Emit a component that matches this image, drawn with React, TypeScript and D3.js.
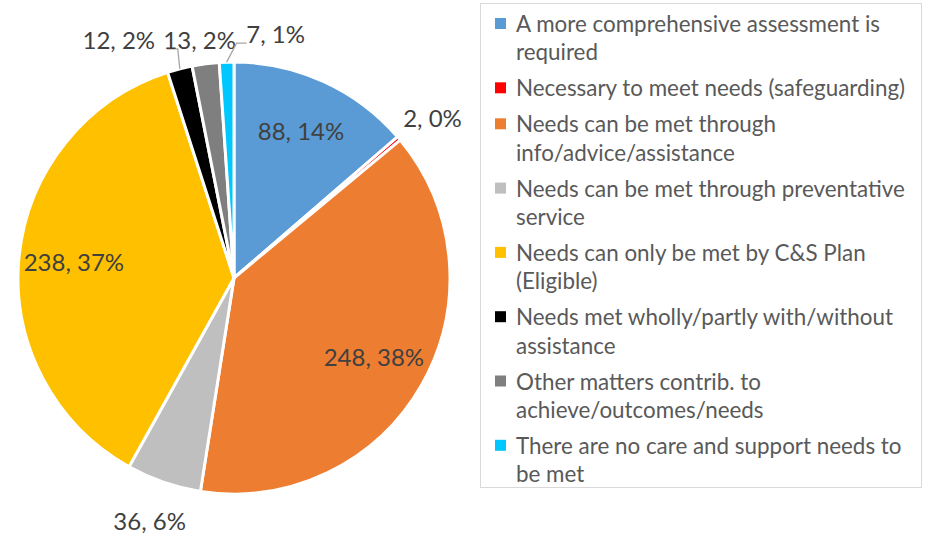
import React from "react";
import * as d3 from "d3";

const categories = [
  "A more comprehensive assessment is required",
  "Necessary to meet needs (safeguarding)",
  "Needs can be met through info/advice/assistance",
  "Needs can be met through preventative service",
  "Needs can only be met by C&S Plan (Eligible)",
  "Needs met wholly/partly with/without assistance",
  "Other matters contrib. to achieve/outcomes/needs",
  "There are no care and support needs to be met",
];
const values = [88, 2, 248, 36, 238, 12, 13, 7];
const percentLabels = ["14%", "0%", "38%", "6%", "37%", "2%", "2%", "1%"];
const legendLines = [
  ["A more comprehensive assessment is", "required"],
  ["Necessary to meet needs (safeguarding)"],
  ["Needs can be met through", "info/advice/assistance"],
  ["Needs can be met through preventative", "service"],
  ["Needs can only be met by C&S Plan", "(Eligible)"],
  ["Needs met wholly/partly with/without", "assistance"],
  ["Other matters contrib. to", "achieve/outcomes/needs"],
  ["There are no care and support needs to", "be met"],
];
const colors = ["#5B9BD5", "#FF0000", "#ED7D31", "#BFBFBF", "#FFC000", "#000000", "#7F7F7F", "#00C8FF"];

// label placement: radius factor along mid-angle, plus nudges; leader = draw leader line
const labelPlacement = [
  { rf: 0.745, dx: 0, dy: 0, leader: false },
  { rf: 1.18, dx: 4, dy: 5, leader: false },
  { rf: 0.745, dx: 0, dy: 0, leader: false },
  { rf: 1.2, dx: 0, dy: -2, leader: false },
  { rf: 0.745, dx: 0, dy: 0, leader: false },
  { rf: 1.0, dx: -61, dy: -29, leader: true },
  { rf: 1.0, dx: -6, dy: -24, leader: false },
  { rf: 1.0, dx: 49, dy: -28, leader: true },
];

const W = 933;
const H = 537;
const cx = 234;
const cy = 278;
const R = 216;
const FONT = "Lato, 'Open Sans', sans-serif";

export default function App() {
  const pie = d3.pie<number>().sort(null).value((d) => d);
  const arcs = pie(values);
  const arcGen = d3.arc<d3.PieArcDatum<number>>().innerRadius(0).outerRadius(R);

  const polar = (angle: number, r: number) => [Math.sin(angle) * r, -Math.cos(angle) * r];

  // legend layout
  const lineH = 28.3;
  const itemGap = 36;
  let baseline = 32;
  const legendItems = legendLines.map((lines, i) => {
    const item = { lines, y: baseline, color: colors[i], name: categories[i] };
    baseline += (lines.length - 1) * lineH + itemGap;
    return item;
  });

  return (
    <svg
      width={W}
      height={H}
      style={{ position: "absolute", left: 0, top: 0, background: "#fff" }}
      fontFamily={FONT}
    >
      <g transform={`translate(${cx},${cy})`}>
        {arcs.map((a, i) => (
          <path key={i} d={arcGen(a) || ""} fill={colors[i]} stroke="#fff" strokeWidth={3} strokeLinejoin="round" />
        ))}
        {arcs.map((a, i) => {
          const mid = (a.startAngle + a.endAngle) / 2;
          const p = labelPlacement[i];
          const [bx, by] = polar(mid, R * p.rf);
          const lx = bx + p.dx;
          const ly = by + p.dy;
          let leader = null;
          if (p.leader) {
            const [ex, ey] = polar(mid, R);
            const lineY = ly + 9;
            if (p.dx < 0) {
              const x2 = lx + 48;
              leader = (
                <polyline
                  points={`${ex},${ey} ${x2 + 11},${lineY} ${x2},${lineY}`}
                  fill="none"
                  stroke="#A6A6A6"
                  strokeWidth={1.3}
                />
              );
            } else {
              const x2 = lx - 29;
              leader = (
                <polyline
                  points={`${ex},${ey} ${x2 - 10},${lineY} ${x2},${lineY}`}
                  fill="none"
                  stroke="#A6A6A6"
                  strokeWidth={1.3}
                />
              );
            }
          }
          return (
            <g key={"l" + i}>
              {leader}
              <text
                x={lx}
                y={ly}
                dy="0.36em"
                textAnchor="middle"
                fontSize={24}
                fill="#404040"
              >
                {`${values[i]}, ${percentLabels[i]}`}
              </text>
            </g>
          );
        })}
      </g>
      <rect x={480.5} y={3.5} width={441} height={484} fill="none" stroke="#D9D9D9" strokeWidth={1} />
      {legendItems.map((it, i) => (
        <g key={"lg" + i}>
          <title>{it.name}</title>
          <rect x={495} y={it.y - 14} width={11} height={11} fill={it.color} />
          {it.lines.map((ln, j) => (
            <text key={j} x={516} y={it.y + j * lineH} fontSize={22.4} fill="#595959">
              {ln}
            </text>
          ))}
        </g>
      ))}
    </svg>
  );
}
